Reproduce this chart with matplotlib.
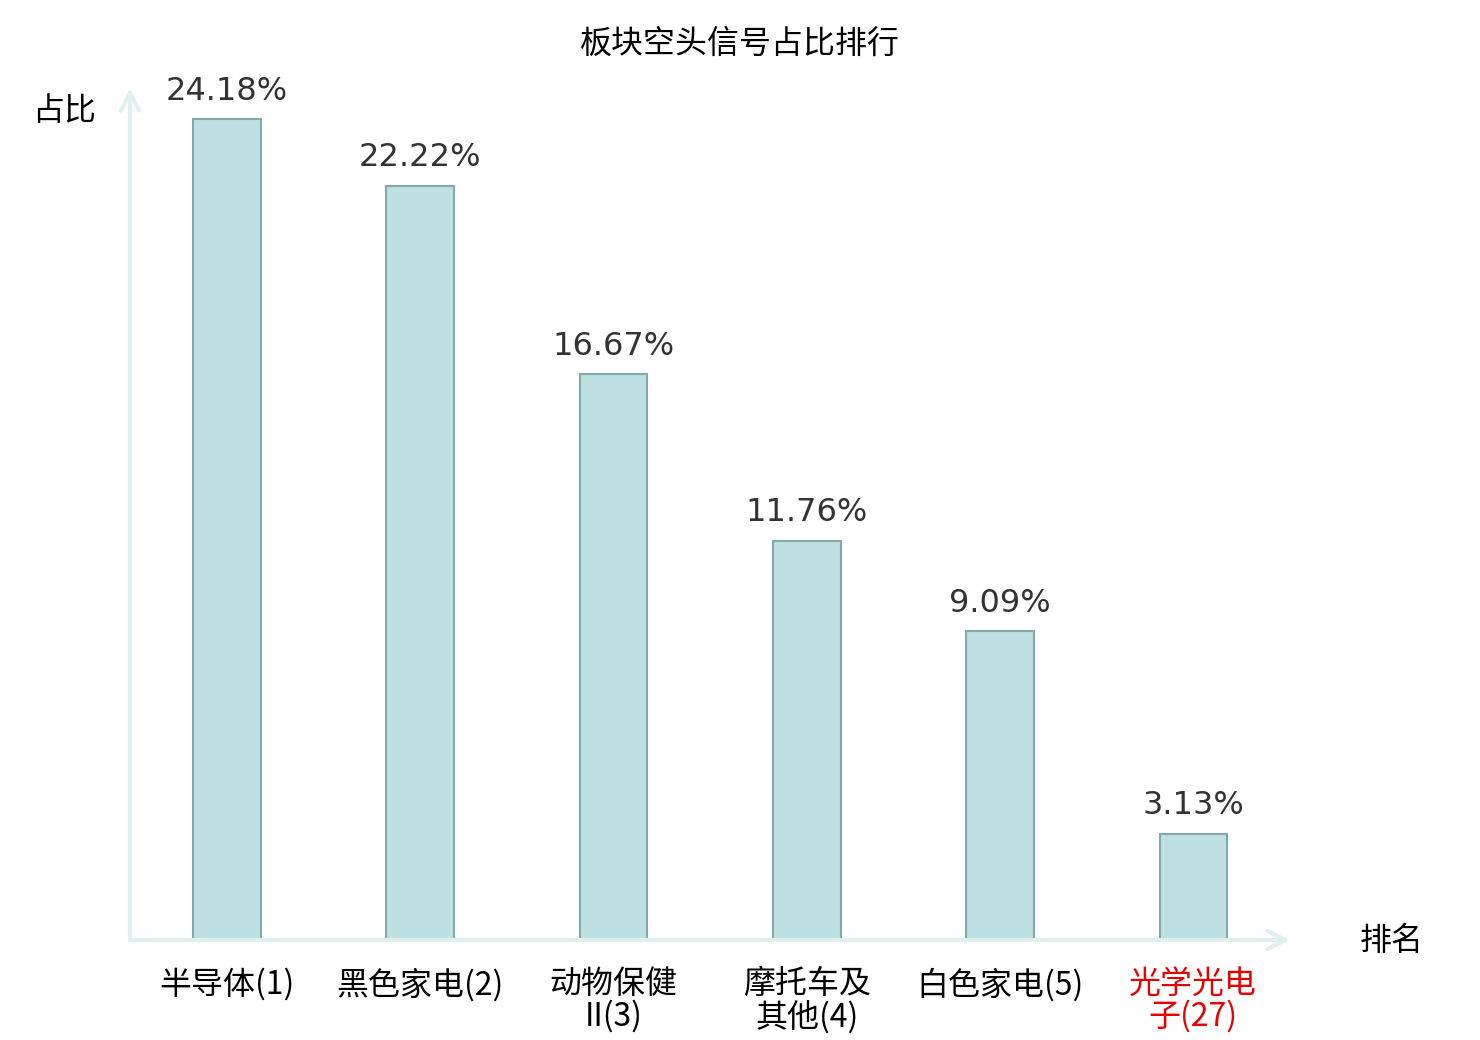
import matplotlib
matplotlib.use('Agg')
import matplotlib.pyplot as plt

plt.rcParams['font.family'] = ['Noto Sans CJK SC', 'DejaVu Sans']

title = '板块空头信号占比排行'
sectors = ['半导体(1)', '黑色家电(2)', '动物保健\nII(3)', '摩托车及\n其他(4)', '白色家电(5)', '光学光电\n子(27)']
shares = [24.18, 22.22, 16.67, 11.76, 9.09, 3.13]
label_colors = ['black', 'black', 'black', 'black', 'black', '#e60000']

fig = plt.figure(figsize=(14.8, 10.4), dpi=100)
ax = fig.add_axes([130 / 1480, 100 / 1040, 1160 / 1480, 852 / 1040])

x = list(range(len(shares)))
ax.bar(x, shares, width=0.35, color='#bde0e3', edgecolor='#86a8a8', linewidth=1.5, zorder=3)

for xi, v in zip(x, shares):
    ax.annotate('{:.2f}%'.format(v), (xi, v), xytext=(0, 9), textcoords='offset points',
                ha='center', va='bottom', fontsize=23, color='#333333', family='DejaVu Sans')

ax.set_xlim(-0.502, 5.5)
ax.set_ylim(0, 25.1)
ax.set_xticks(x)
ax.set_xticklabels(sectors, fontsize=23, linespacing=1.02)
for lab, c in zip(ax.get_xticklabels(), label_colors):
    lab.set_color(c)
ax.tick_params(axis='x', length=0, pad=20)
ax.set_yticks([])
for s in ax.spines.values():
    s.set_visible(False)

# axis arrows
arrow_c = '#dff1ef'
ax.annotate('', xy=(1.0, 0), xytext=(0, 0), xycoords='axes fraction',
            arrowprops=dict(arrowstyle='->,head_length=1.3,head_width=0.65', color=arrow_c, lw=3,
                            shrinkA=0, shrinkB=0))
ax.annotate('', xy=(0, 1.0), xytext=(0, 0), xycoords='axes fraction',
            arrowprops=dict(arrowstyle='->,head_length=1.3,head_width=0.65', color=arrow_c, lw=3,
                            shrinkA=0, shrinkB=0))

fig.text(64 / 1480, 1 - 111 / 1040, '占比', fontsize=23, ha='center', va='center')
fig.text(1392 / 1480, 1 - 941 / 1040, '排名', fontsize=23, ha='center', va='center')
fig.text(740 / 1480, 1 - 44 / 1040, title, fontsize=23, ha='center', va='center')

fig.savefig('out.png', dpi=100)
